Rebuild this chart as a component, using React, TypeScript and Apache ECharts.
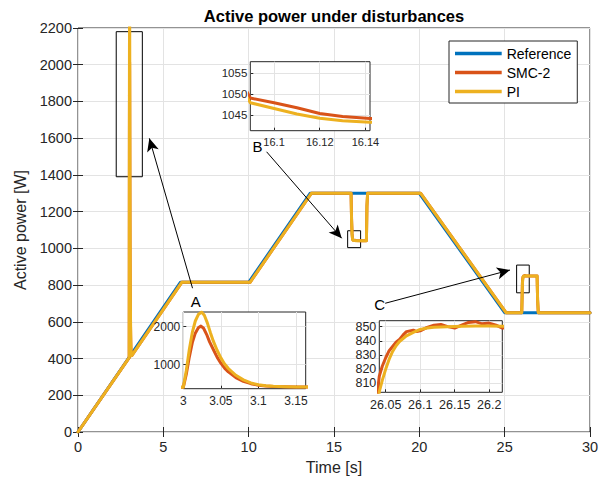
import React, { useEffect, useRef } from "react";
import * as echarts from "echarts";

type P = [number, number];

// ---- data ----
const REF: P[] = [[0, 0], [6, 815], [10, 815], [13.6, 1300], [20, 1300], [25, 650], [30, 650]];

const SMC_PRE: P[] = [[0, 0]];
const SMC_A: P[] = [[3.0, 405], [3.004, 750], [3.008, 1200], [3.012, 1580], [3.016, 1830], [3.02, 1970], [3.0235, 2015], [3.027, 1960], [3.031, 1800], [3.035, 1600], [3.04, 1400], [3.045, 1200], [3.05, 1040], [3.055, 910], [3.06, 810], [3.07, 660], [3.08, 560], [3.09, 500], [3.1, 460], [3.11, 440], [3.12, 428], [3.135, 420], [3.15, 416], [3.163, 414]];
const SMC_MID1: P[] = [[6.08, 815], [10.08, 815], [13.68, 1300], [16, 1300], [16.03, 1160], [16.06, 1080]];
const SMC_B: P[] = [[16.0896, 1049.1], [16.1, 1048], [16.11, 1046.8], [16.12, 1045.4], [16.13, 1044.7], [16.142, 1044.2]];
const SMC_MID2: P[] = [[16.3, 1042.5], [16.6, 1041.5], [16.9, 1041], [16.93, 1230], [16.97, 1300], [20.08, 1300], [25.08, 650], [26, 650], [26.02, 730]];
const SMC_C: P[] = [[26.0407, 815], [26.045, 822], [26.05, 828], [26.055, 833], [26.06, 836], [26.065, 839], [26.07, 841], [26.075, 844], [26.08, 846.5], [26.09, 847.5], [26.095, 846.5], [26.1, 847], [26.11, 849.5], [26.12, 851], [26.13, 851.5], [26.14, 850], [26.15, 849], [26.16, 851], [26.17, 853], [26.18, 853.5], [26.19, 852], [26.2, 852.5], [26.21, 851], [26.219, 849]];
const SMC_POST: P[] = [[26.5, 850], [26.9, 850], [26.93, 720], [26.97, 650], [30, 650]];

const PI_PRE: P[] = [[0, 0]];
const PI_A: P[] = [[3.0, 405], [3.004, 850], [3.008, 1400], [3.012, 1850], [3.016, 2150], [3.02, 2320], [3.0245, 2385], [3.028, 2300], [3.032, 2100], [3.036, 1850], [3.04, 1620], [3.045, 1380], [3.05, 1180], [3.055, 1020], [3.06, 900], [3.07, 720], [3.08, 600], [3.09, 520], [3.1, 470], [3.11, 445], [3.12, 430], [3.135, 420], [3.15, 416], [3.163, 414]];
const PI_MID1: P[] = [[6.08, 815], [10.08, 815], [13.68, 1300], [16, 1300], [16.03, 1150], [16.06, 1075]];
const PI_B: P[] = [[16.0896, 1048], [16.1, 1046.6], [16.11, 1045.3], [16.12, 1044.3], [16.13, 1043.7], [16.142, 1043.3]];
const PI_MID2: P[] = [[16.3, 1042], [16.6, 1041.5], [16.9, 1041], [16.93, 1230], [16.97, 1300], [20.08, 1300], [25.08, 650], [26, 650], [26.02, 720]];
const PI_C: P[] = [[26.0407, 804], [26.045, 812], [26.05, 820], [26.055, 827], [26.06, 832.5], [26.065, 836.5], [26.07, 839.5], [26.08, 843.5], [26.09, 846], [26.1, 848], [26.11, 849], [26.12, 849.6], [26.14, 850], [26.16, 850.3], [26.18, 850.5], [26.2, 850.5], [26.219, 850.3]];
const PI_POST: P[] = [[26.5, 850], [26.9, 850], [26.93, 720], [26.97, 650], [30, 650]];

const MAIN_X_TICKS = { min: 0, max: 30, interval: 5 };
const MAIN_Y_TICKS = { min: 0, max: 2200, interval: 200 };
const A_X_TICKS = [3, 3.05, 3.1, 3.15];
const A_Y_TICKS = [1000, 2000];
const B_X_TICKS = [16.1, 16.12, 16.14];
const B_Y_TICKS = [1045, 1050, 1055];
const C_X_TICKS = [26.05, 26.1, 26.15, 26.2];
const C_Y_TICKS = [810, 820, 830, 840, 850];

const A_RANGE = { xmin: 3, xmax: 3.163, ymin: 368, ymax: 2387 };
const B_RANGE = { xmin: 16.0896, xmax: 16.142, ymin: 1041.3, ymax: 1057.8 };
const C_RANGE = { xmin: 26.0407, xmax: 26.219, ymin: 803.6, ymax: 854.2 };

// zoom boxes [x0, y0, x1, y1] in data units
const BOX_A = [2.24, 2180, 3.77, 1390];
const BOX_B = [15.8, 1096, 16.56, 1004];
const BOX_C = [25.7, 909, 26.44, 758];
// arrows [fromX, fromY, toX, toY] in data units
const ARROW_A = [6.71, 783, 4.18, 1599];
const ARROW_B = [11.05, 1526, 15.45, 1055];
const ARROW_C = [18.0, 701, 25.31, 882];

const SMC: P[] = [...SMC_PRE, ...SMC_A, ...SMC_MID1, ...SMC_B, ...SMC_MID2, ...SMC_C, ...SMC_POST];
const PI: P[] = [...PI_PRE, ...PI_A, ...PI_MID1, ...PI_B, ...PI_MID2, ...PI_C, ...PI_POST];

const NAMES = ["Reference", "SMC-2", "PI"];
const COLORS = ["#0072BD", "#D95319", "#EDB120"];

const FONT = "'Liberation Sans', Arial, Helvetica, sans-serif";
const AX = "#262626";
const GRIDC = "#e3e3e3";
const fmt = (v: number) => String(Math.round(v * 1000) / 1000);

export default function App() {
  const ref = useRef<HTMLDivElement>(null);
  useEffect(() => {
    if (!ref.current) return;
    const chart = echarts.init(ref.current, undefined, { renderer: "svg" });

    const grids = [
      { left: 78, top: 28, width: 512, height: 404, show: true, borderColor: AX, borderWidth: 1, backgroundColor: "#fff", z: 0 },
      { left: 183.3, top: 312, width: 122.4, height: 76.7, show: true, borderColor: AX, borderWidth: 1, backgroundColor: "#fff", z: 10 },
      { left: 250.3, top: 61.7, width: 119.7, height: 69, show: true, borderColor: AX, borderWidth: 1, backgroundColor: "#fff", z: 10 },
      { left: 379.3, top: 320.7, width: 123, height: 71.6, show: true, borderColor: AX, borderWidth: 1, backgroundColor: "#fff", z: 10 },
    ];

    const mainAxisCommon = {
      type: "value",
      gridIndex: 0,
      axisLine: { show: false },
      axisTick: { show: true, inside: true, length: 5, lineStyle: { color: AX } },
      z: 1,
    };

    const insetX = (gi: number, r: any, ticks: number[], fs: number) => ({
      type: "value", gridIndex: gi, min: r.xmin, max: r.xmax, z: 11,
      axisLine: { show: false },
      axisTick: { show: true, inside: true, length: 3, customValues: ticks, lineStyle: { color: AX } },
      axisLabel: { customValues: ticks, fontSize: fs, color: AX, fontFamily: FONT, margin: 6, formatter: fmt },
      splitLine: { show: true, lineStyle: { color: GRIDC, width: 1 } },
    });
    const insetY = (gi: number, r: any, ticks: number[], fs: number) => ({
      type: "value", gridIndex: gi, min: r.ymin, max: r.ymax, z: 11,
      axisLine: { show: false },
      axisTick: { show: true, inside: true, length: 3, customValues: ticks, lineStyle: { color: AX } },
      axisLabel: { customValues: ticks, fontSize: fs, color: AX, fontFamily: FONT, margin: 3, formatter: fmt },
      splitLine: { show: true, lineStyle: { color: GRIDC, width: 1 } },
    });

    const xAxis: any[] = [
      {
        ...mainAxisCommon, position: "bottom", ...MAIN_X_TICKS,
        name: "Time [s]", nameLocation: "middle", nameGap: 27,
        nameTextStyle: { fontSize: 16, color: AX, fontFamily: FONT },
        axisLabel: { fontSize: 14.5, color: AX, fontFamily: FONT, margin: 7, formatter: fmt },
        splitLine: { show: true, lineStyle: { color: GRIDC, width: 1 } },
      },
      { ...mainAxisCommon, position: "top", ...MAIN_X_TICKS, axisLabel: { show: false }, splitLine: { show: false } },
      insetX(1, A_RANGE, A_X_TICKS, 12),
      insetX(2, B_RANGE, B_X_TICKS, 11),
      insetX(3, C_RANGE, C_X_TICKS, 12.5),
    ];
    const yAxis: any[] = [
      {
        ...mainAxisCommon, position: "left", ...MAIN_Y_TICKS,
        name: "Active power [W]", nameLocation: "middle", nameGap: 48,
        nameTextStyle: { fontSize: 16, color: AX, fontFamily: FONT },
        axisLabel: { fontSize: 14.5, color: AX, fontFamily: FONT, margin: 6, formatter: fmt },
        splitLine: { show: true, lineStyle: { color: GRIDC, width: 1 } },
      },
      { ...mainAxisCommon, position: "right", ...MAIN_Y_TICKS, axisLabel: { show: false }, splitLine: { show: false } },
      insetY(1, A_RANGE, A_Y_TICKS, 12),
      insetY(2, B_RANGE, B_Y_TICKS, 11.5),
      insetY(3, C_RANGE, C_Y_TICKS, 12.5),
    ];

    const datasets = [REF, SMC, PI];
    const panelAxes = [[0, 0], [2, 2], [3, 3], [4, 4]];
    const series: any[] = [];
    panelAxes.forEach(([xi, yi], pi) => {
      datasets.forEach((d, si) => {
        if (pi === 1 && si === 0) return; // reference lies under the bottom edge of inset A
        const s: any = {
          type: "line",
          name: NAMES[si],
          xAxisIndex: xi,
          yAxisIndex: yi,
          data: d,
          showSymbol: false,
          symbol: "none",
          clip: true,
          silent: true,
          z: (pi === 0 ? 2 : 12) + si,
          lineStyle: { color: COLORS[si], width: 3, cap: "round", join: "round" },
          itemStyle: { color: COLORS[si] },
          emphasis: { disabled: true },
        };
        if (pi === 0 && si === 2) {
          s.markArea = {
            silent: true,
            itemStyle: { color: "rgba(0,0,0,0)", borderColor: "#000", borderWidth: 1 },
            data: [BOX_A, BOX_B, BOX_C].map((b) => [
              { xAxis: b[0], yAxis: b[1] },
              { xAxis: b[2], yAxis: b[3] },
            ]),
          };
          s.markLine = {
            silent: true,
            symbol: ["none", "arrow"],
            symbolSize: [9, 13],
            label: { show: false },
            lineStyle: { color: "#000", width: 1, type: "solid" },
            data: [ARROW_A, ARROW_B, ARROW_C].map((a) => [
              { coord: [a[0], a[1]] },
              { coord: [a[2], a[3]] },
            ]),
          };
        }
        series.push(s);
      });
    });

    chart.setOption({
      animation: false,
      backgroundColor: "#fff",
      textStyle: { fontFamily: FONT },
      grid: grids,
      xAxis,
      yAxis,
      series,
      legend: {
        data: NAMES,
        orient: "vertical",
        left: 449,
        top: 41,
        icon: "rect",
        itemWidth: 46.7,
        itemHeight: 3.5,
        itemGap: 0,
        padding: [3, 6, 2, 6],
        borderColor: AX,
        borderWidth: 1,
        backgroundColor: "#fff",
        selectedMode: false,
        z: 30,
        textStyle: { fontSize: 14, color: "#000", fontFamily: FONT, lineHeight: 19 },
      },
      graphic: [
        { type: "text", x: 334, y: 16, z: 30, style: { text: "Active power under disturbances", fontSize: 16.5, fontWeight: "bold", fontFamily: FONT, fill: "#000", textAlign: "center", textVerticalAlign: "middle" } },
        { type: "text", x: 195.7, y: 301.5, z: 30, style: { text: "A", fontSize: 15, fontFamily: FONT, fill: "#000", textAlign: "center", textVerticalAlign: "middle" } },
        { type: "text", x: 257.5, y: 146, z: 30, style: { text: "B", fontSize: 15, fontFamily: FONT, fill: "#000", textAlign: "center", textVerticalAlign: "middle" } },
        { type: "text", x: 379.7, y: 304, z: 30, style: { text: "C", fontSize: 15, fontFamily: FONT, fill: "#000", textAlign: "center", textVerticalAlign: "middle" } },
      ],
    });

    return () => chart.dispose();
  }, []);

  return (
    <div style={{ position: "absolute", left: 0, top: 0, width: 603, height: 482, background: "#fff" }}>
      <div ref={ref} style={{ width: 603, height: 482 }} />
    </div>
  );
}
